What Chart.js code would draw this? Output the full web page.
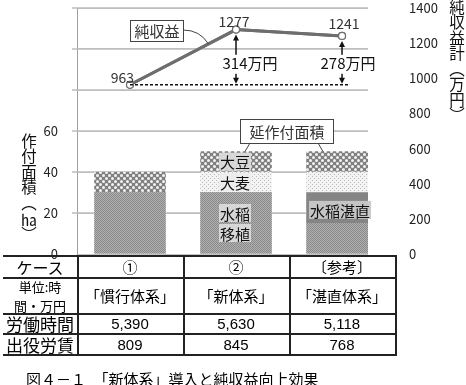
<!DOCTYPE html>
<html>
<head>
<meta charset="utf-8">
<script src="https://cdn.jsdelivr.net/npm/chart.js@4/dist/chart.umd.min.js"></script>
<style>
body { margin: 0; background: #fff; font-family: "Noto Sans CJK JP", sans-serif; color: #000; }
#wrap { position: relative; width: 466px; height: 385px; overflow: hidden; }
#cv { position: absolute; left: 0; top: 0; }
.vt { position: absolute; writing-mode: vertical-rl; font-size: 15.5px; line-height: 18px; color: #111; white-space: nowrap; }
.vt span { text-combine-upright: all; }
.ln { position: absolute; background: #222; }
.cell { position: absolute; display: flex; align-items: center; justify-content: center; text-align: center; white-space: nowrap; padding-top: 2px; box-sizing: border-box; }
#cap { position: absolute; left: 26px; top: 371px; font-size: 15px; line-height: 16px; white-space: nowrap; }
</style>
</head>
<body>
<div id="wrap">
  <canvas id="cv" width="466" height="270"></canvas>
  <div class="vt" style="left:20px; top:133px;">作付面積（<span>ha</span>）</div>
  <div class="vt" style="left:448px; top:-1px;">純収益計（万円）</div>
  <div id="tbl"></div>
  <div id="cap">図４－１　「新体系」導入と純収益向上効果</div>
</div>
<script>
// data
const cases = ['①', '②', '〔参考〕'];
const systems = ['「慣行体系」', '「新体系」', '「湛直体系」'];
const riceTransplant = [30, 30, 15];   // 水稲移植 (ha)
const riceDirect = [0, 0, 15];         // 水稲湛直 (ha)
const barley = [0, 10, 10];            // 大麦 (ha)
const soybean = [10, 10, 10];          // 大豆 (ha)
const netIncome = [963, 1277, 1241];   // 純収益 (万円)
const laborHours = ['5,390', '5,630', '5,118'];
const laborWages = ['809', '845', '768'];

const fam = '"Noto Sans CJK JP", sans-serif';

// fill patterns
function pat(w, h, draw) {
    const c = document.createElement('canvas');
    c.width = w; c.height = h;
    const g = c.getContext('2d');
    draw(g);
    return g.createPattern(c, 'repeat');
}
const patTransplant = pat(2, 2, g => {
    g.fillStyle = '#b0b0b0'; g.fillRect(0, 0, 2, 2);
    g.fillStyle = '#8a8a8a'; g.fillRect(0, 0, 1, 1); g.fillRect(1, 1, 1, 1);
});
const patSoy = pat(6, 6, g => {
    g.fillStyle = '#808080'; g.fillRect(0, 0, 6, 6);
    g.fillStyle = '#f2f2f2';
    g.beginPath(); g.arc(1.5, 1.5, 1.5, 0, Math.PI * 2); g.fill();
    g.beginPath(); g.arc(4.5, 4.5, 1.5, 0, Math.PI * 2); g.fill();
});
const patBarley = pat(4, 4, g => {
    g.fillStyle = '#f3f3f3'; g.fillRect(0, 0, 4, 4);
    g.fillStyle = '#bcbcbc'; g.fillRect(0, 0, 1, 1); g.fillRect(2, 2, 1, 1);
});

function xy(arr) { return arr.map((v, i) => ({ x: i, y: v })); }

const barCommon = { type: 'bar', stack: 'area', barThickness: 71, borderWidth: 0, clip: 0 };

// annotations
function arrowHead(ctx, x, y, dir) {
    ctx.beginPath();
    ctx.moveTo(x, y);
    ctx.lineTo(x - 3, y + dir * 6);
    ctx.lineTo(x + 3, y + dir * 6);
    ctx.closePath();
    ctx.fill();
}
function labelBg(ctx, text, x, y, bg) {
    const w = ctx.measureText(text).width;
    ctx.fillStyle = bg;
    ctx.fillRect(x - w / 2 - 1, y - 9, w + 2, 18);
    ctx.fillStyle = '#111';
    ctx.fillText(text, x, y + 1);
}

const annot = {
    id: 'annot',
    afterDatasetsDraw(chart) {
        const ctx = chart.ctx;
        const area = chart.chartArea;
        const ys = chart.scales.y;
        const pts = chart.getDatasetMeta(0).data;
        const baseY = chart.scales.y2.getPixelForValue(netIncome[0]);

        // gridlines, kept outside the bars
        ctx.save();
        ctx.beginPath();
        ctx.rect(0, 0, chart.width, chart.height);
        [1, 2, 3, 4].forEach(d => {
            chart.getDatasetMeta(d).data.forEach(el => {
                if (el.base - el.y > 0.5) ctx.rect(el.x - el.width / 2, el.y, el.width, el.base - el.y);
            });
        });
        ctx.clip('evenodd');
        ctx.strokeStyle = '#bdbdbd';
        ctx.lineWidth = 1.4;
        ys.ticks.forEach(t => {
            if (t.value === 0) return;
            const py = Math.round(ys.getPixelForValue(t.value));
            ctx.beginPath();
            ctx.moveTo(ys.right - 5, py);
            ctx.lineTo(area.right, py);
            ctx.stroke();
        });
        ctx.restore();

        // line back on top of the gridlines
        chart.getDatasetMeta(0).controller.draw();

        ctx.save();
        // bar labels
        ctx.font = '15px ' + fam;
        ctx.textAlign = 'center';
        ctx.textBaseline = 'middle';
        const mid = (el) => (el.y + el.base) / 2;
        const soyEl = chart.getDatasetMeta(4).data[1];
        const barEl = chart.getDatasetMeta(3).data[1];
        const trEl = chart.getDatasetMeta(1).data[1];
        const drEl = chart.getDatasetMeta(2).data[2];
        labelBg(ctx, '大豆', soyEl.x - 1, mid(soyEl), 'rgba(218,218,218,0.95)');
        labelBg(ctx, '大麦', barEl.x - 1, mid(barEl), 'rgba(236,236,236,0.95)');
        labelBg(ctx, '水稲', trEl.x - 1, mid(trEl) - 10, 'rgba(218,218,218,0.95)');
        labelBg(ctx, '移植', trEl.x - 1, mid(trEl) + 10, 'rgba(218,218,218,0.95)');
        labelBg(ctx, '水稲湛直', drEl.x - 2, mid(drEl) + 2, 'rgba(200,200,200,0.95)');

        // dashed base line at the conventional net income
        ctx.strokeStyle = '#111';
        ctx.fillStyle = '#111';
        ctx.lineWidth = 1.5;
        ctx.setLineDash([3, 2]);
        ctx.beginPath();
        ctx.moveTo(pts[0].x, baseY);
        ctx.lineTo(pts[2].x + 8, baseY);
        ctx.stroke();
        ctx.setLineDash([]);

        // arrows + difference labels
        ctx.font = '15px ' + fam;
        [1, 2].forEach((i, k) => {
            const x = pts[i].x, top = pts[i].y + 5;
            ctx.fillStyle = '#111';
            ctx.beginPath();
            ctx.moveTo(x, top + 4);
            ctx.lineTo(x, baseY - 4);
            ctx.stroke();
            arrowHead(ctx, x, top, 1);
            arrowHead(ctx, x, baseY - 1, -1);
            const txt = (netIncome[i] - netIncome[0]) + '万円';
            const tx = x + (k === 0 ? 14 : 6);
            const w = ctx.measureText(txt).width;
            ctx.fillStyle = '#fff';
            ctx.fillRect(tx - w / 2 - 1, baseY - 30, w + 2, 19);
            ctx.fillStyle = '#111';
            ctx.fillText(txt, tx, baseY - 21);
        });

        // value labels on the line
        ctx.font = '14px ' + fam;
        ctx.fillStyle = '#333';
        ctx.textAlign = 'right';
        ctx.fillText(String(netIncome[0]), pts[0].x + 4, pts[0].y - 7);
        ctx.textAlign = 'center';
        ctx.fillText(String(netIncome[1]), pts[1].x - 2, pts[1].y - 8);
        ctx.fillText(String(netIncome[2]), pts[2].x + 2, pts[2].y - 12);

        // 純収益 callout
        ctx.strokeStyle = '#444';
        ctx.lineWidth = 1;
        const t = 0.74;
        const lx = pts[0].x + t * (pts[1].x - pts[0].x);
        const ly = pts[0].y + t * (pts[1].y - pts[0].y);
        ctx.beginPath();
        ctx.moveTo(183, 30);
        ctx.quadraticCurveTo(200, 30, lx, ly);
        ctx.stroke();
        ctx.fillStyle = '#fff';
        ctx.fillRect(130.5, 20.5, 53, 21);
        ctx.strokeRect(130.5, 20.5, 53, 21);
        ctx.font = '15px ' + fam;
        ctx.fillStyle = '#333';
        ctx.fillText('純収益', 157, 31.5);

        // 延作付面積 callout
        const top2 = chart.getDatasetMeta(4).data[1];
        const top3 = chart.getDatasetMeta(4).data[2];
        ctx.beginPath();
        ctx.moveTo(250, 143); ctx.lineTo(top2.x + 9, top2.y);
        ctx.moveTo(318, 143); ctx.lineTo(top3.x - 19, top3.y);
        ctx.stroke();
        ctx.fillStyle = '#fff';
        ctx.fillRect(240.5, 119.5, 93, 24);
        ctx.strokeRect(240.5, 119.5, 93, 24);
        ctx.fillStyle = '#333';
        ctx.fillText('延作付面積', 287, 132);

        ctx.restore();
    }
};

new Chart(document.getElementById('cv'), {
    type: 'bar',
    data: {
        datasets: [
            {
                type: 'line', label: '純収益', yAxisID: 'y2', data: xy(netIncome),
                borderColor: '#6e6e6e', borderWidth: 3,
                pointRadius: 3.5, pointBackgroundColor: '#fff',
                pointBorderColor: '#6e6e6e', pointBorderWidth: 1.2, clip: false
            },
            { ...barCommon, label: '水稲移植', data: xy(riceTransplant), backgroundColor: patTransplant },
            { ...barCommon, label: '水稲湛直', data: xy(riceDirect), backgroundColor: '#858585' },
            { ...barCommon, label: '大麦', data: xy(barley), backgroundColor: patBarley },
            { ...barCommon, label: '大豆', data: xy(soybean), backgroundColor: patSoy }
        ]
    },
    options: {
        responsive: false,
        animation: false,
        layout: { padding: { top: 8, bottom: 16, left: 0, right: 0 } },
        plugins: { legend: { display: false }, tooltip: { enabled: false } },
        scales: {
            x: { type: 'linear', display: false, offset: false, min: -0.5, max: 2.245 },
            y: {
                position: 'left', min: 0, max: 120,
                afterFit: s => { s.width = 77; },
                ticks: {
                    stepSize: 20, padding: 0, color: '#222',
                    font: { family: fam, size: 13 },
                    callback: v => (v <= 60 ? String(v) : '')
                },
                grid: { color: '#c4c4c4', tickLength: 19, tickColor: 'rgba(0,0,0,0)' },
                border: { color: '#a0a0a0' }
            },
            y2: {
                position: 'right', min: 0, max: 1400,
                afterFit: s => { s.width = 98; },
                ticks: {
                    stepSize: 200, padding: 0, color: '#222',
                    font: { family: fam, size: 13 },
                    callback: v => String(v)
                },
                grid: { drawOnChartArea: false, tickLength: 41, tickColor: 'rgba(0,0,0,0)' },
                border: { display: false }
            }
        }
    },
    plugins: [annot]
});

// table under the chart
const tbl = document.getElementById('tbl');
const rowsY = [255, 277, 313, 333, 354];
const colsX = [3, 77, 183, 289, 395];
const rows = [
    ['ケース', ...cases],
    ['単位:時<br>間・万円', ...systems],
    ['労働時間', ...laborHours],
    ['出役労賃', ...laborWages]
];
const rowFont = [
    ['16px', '15px'],
    ['13px', '15px'],
    ['17px', '15px'],
    ['17px', '15px']
];
rows.forEach((r, ri) => {
    r.forEach((txt, ci) => {
        const d = document.createElement('div');
        d.className = 'cell';
        d.style.left = colsX[ci] + 'px';
        d.style.top = rowsY[ri] + 'px';
        d.style.width = (colsX[ci + 1] - colsX[ci]) + 'px';
        d.style.height = (rowsY[ri + 1] - rowsY[ri]) + 'px';
        d.style.fontSize = rowFont[ri][ci === 0 ? 0 : 1];
        if (ri === 1 && ci === 0) d.style.lineHeight = '19px';
        else d.style.lineHeight = '18px';
        if (ri >= 2 && ci > 0) d.style.fontFamily = '"Liberation Sans", sans-serif';
        d.innerHTML = txt;
        tbl.appendChild(d);
    });
});
rowsY.forEach(y => {
    const l = document.createElement('div');
    l.className = 'ln';
    l.style.left = colsX[0] + 'px';
    l.style.top = y + 'px';
    l.style.width = (colsX[colsX.length - 1] - colsX[0] + 2) + 'px';
    l.style.height = '2px';
    tbl.appendChild(l);
});
colsX.slice(1).forEach(x => {
    const l = document.createElement('div');
    l.className = 'ln';
    l.style.left = x + 'px';
    l.style.top = rowsY[0] + 'px';
    l.style.width = '2px';
    l.style.height = (rowsY[rowsY.length - 1] - rowsY[0] + 2) + 'px';
    tbl.appendChild(l);
});
</script>
</body>
</html>
